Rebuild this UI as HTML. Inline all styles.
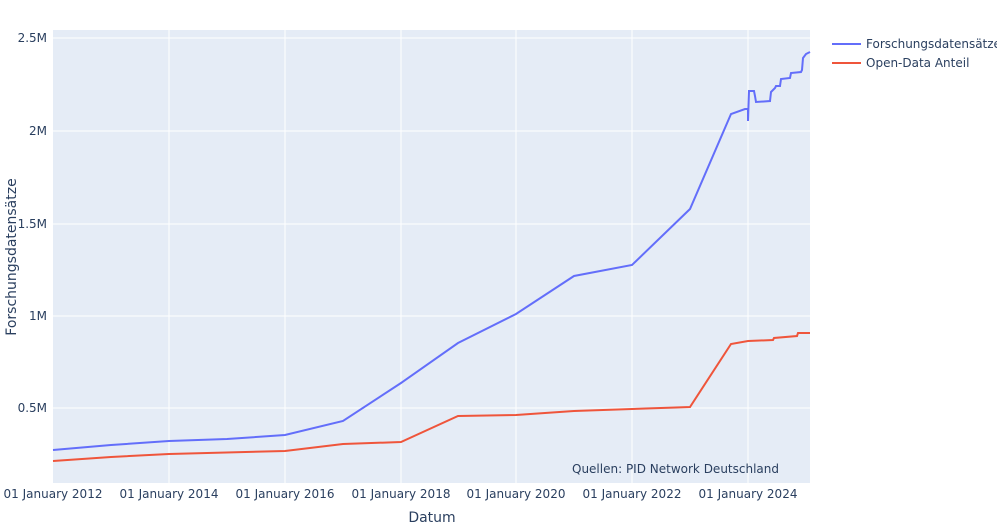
<!DOCTYPE html>
<html><head><meta charset="utf-8"><style>body{margin:0;background:#fff}svg{display:block;font-family:"DejaVu Sans","Liberation Sans",sans-serif}</style></head><body>
<svg width="997" height="525" viewBox="0 0 997 525">
<rect x="53" y="30" width="757" height="453" fill="#e5ecf6"/>
<g stroke="#fff" stroke-width="1">
<line x1="169" y1="30" x2="169" y2="483"/><line x1="285" y1="30" x2="285" y2="483"/><line x1="401" y1="30" x2="401" y2="483"/><line x1="516" y1="30" x2="516" y2="483"/><line x1="632" y1="30" x2="632" y2="483"/><line x1="748" y1="30" x2="748" y2="483"/>
<line x1="53" y1="408" x2="810" y2="408"/><line x1="53" y1="316" x2="810" y2="316"/><line x1="53" y1="224" x2="810" y2="224"/><line x1="53" y1="131" x2="810" y2="131"/><line x1="53" y1="38" x2="810" y2="38"/>
</g>
<polyline fill="none" stroke="#636efa" stroke-width="2" points="53,450 111,445 169,441 227,439 285,435 343,421 401,383 458,343 516,314 574,276 632,265 690,209 731,114 745,109 748,109 748,121 749,91 754,91 755,96 756,102 770,101 771,92 775,88 776,86 780,86 781,79 790,78 791,73 801,72 802,70 803,58 806,54 810,52"/>
<polyline fill="none" stroke="#ef553b" stroke-width="2" points="53,461 111,457 169,454 285,451 343,444 401,442 458,416 516,415 574,411 632,409 690,407 731,344 748,341 773,340 774,338 797,336 798,333 810,333"/>
<g fill="#2a3f5f" font-size="12" text-anchor="end">
<text x="47" y="412">0.5M</text><text x="47" y="320">1M</text><text x="47" y="228">1.5M</text><text x="47" y="135">2M</text><text x="47" y="42">2.5M</text>
</g>
<g fill="#2a3f5f" font-size="12" text-anchor="middle">
<text x="53" y="498">01 January 2012</text><text x="169" y="498">01 January 2014</text><text x="285" y="498">01 January 2016</text><text x="401" y="498">01 January 2018</text><text x="516" y="498">01 January 2020</text><text x="632" y="498">01 January 2022</text><text x="748" y="498">01 January 2024</text>
</g>
<text x="432" y="522" fill="#2a3f5f" font-size="14" text-anchor="middle">Datum</text>
<text transform="translate(16,257) rotate(-90)" fill="#2a3f5f" font-size="14" text-anchor="middle">Forschungsdatensätze</text>
<text x="779" y="473" fill="#2a3f5f" font-size="12" text-anchor="end">Quellen: PID Network Deutschland</text>
<line x1="832" y1="44" x2="861" y2="44" stroke="#636efa" stroke-width="2"/>
<text x="866" y="48" fill="#2a3f5f" font-size="12">Forschungsdatensätze</text>
<line x1="832" y1="63" x2="861" y2="63" stroke="#ef553b" stroke-width="2"/>
<text x="866" y="67" fill="#2a3f5f" font-size="12">Open-Data Anteil</text>
</svg>
</body></html>
